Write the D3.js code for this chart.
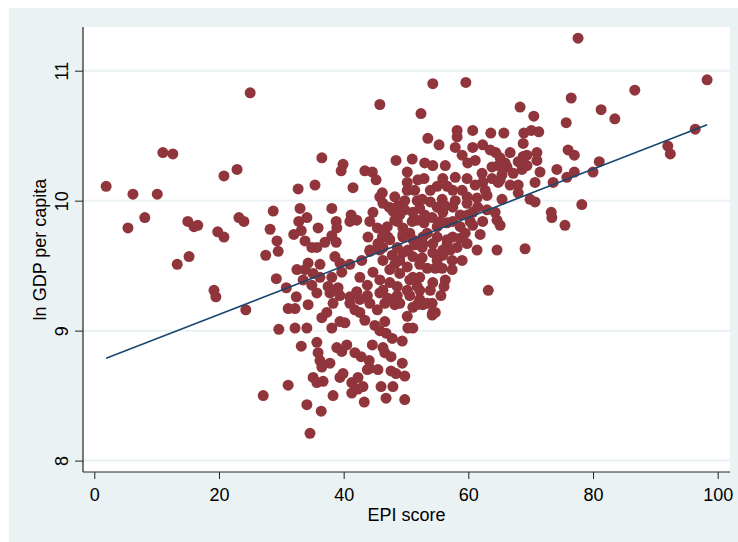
<!DOCTYPE html>
<html>
<head>
<meta charset="utf-8">
<script src="https://cdn.jsdelivr.net/npm/d3@7"></script>
<style>
  body { margin: 0; background: #ffffff; }
  text { font-family: "Liberation Sans", Arial, sans-serif; fill: #000; }
</style>
</head>
<body>
<div id="chart"></div>
<script>

// EPI score (x) and ln GDP per capita (y)
var epi = [
  1.9, 6.2, 5.4, 8.1, 10.1, 11.0, 12.6, 13.3, 15.2, 15.0, 16.0, 16.6, 19.2, 19.5, 19.8, 20.8, 20.8, 22.9, 23.2, 24.0,
  24.3, 25.0, 27.1, 27.5, 28.2, 28.7, 29.3, 29.5, 29.2, 29.6, 32.2, 34.1, 31.1, 34.1, 36.4, 34.6, 32.7, 32.0, 32.8, 33.0,
  33.2, 30.8, 32.4, 32.5, 31.1, 32.2, 33.8, 34.1, 34.9, 35.4, 35.7, 35.9, 36.5, 37.0, 38.1, 38.1, 38.8, 38.9, 38.8, 38.6,
  34.3, 36.2, 33.8, 35.1, 33.5, 34.9, 36.2, 38.1, 37.5, 39.1, 35.7, 37.8, 39.4, 41.0, 39.7, 34.3, 36.5, 37.3, 38.3, 39.4,
  38.1, 39.4, 40.2, 33.2, 35.7, 35.9, 36.2, 36.5, 37.8, 38.9, 35.1, 35.7, 36.7, 39.4, 38.3, 39.9, 39.9, 39.6, 41.5, 41.2,
  41.0, 42.1, 43.4, 44.6, 45.2, 44.7, 44.2, 43.9, 44.2, 45.4, 45.8, 46.3, 46.2, 45.8, 41.0, 41.0, 42.6, 42.6, 44.2, 45.4,
  43.8, 45.8, 42.9, 44.2, 45.8, 42.6, 43.8, 44.7, 45.8, 42.1, 40.5, 39.7, 41.8, 42.8, 44.6, 44.1, 44.2, 43.8, 45.5, 41.3,
  42.3, 43.1, 42.3, 41.3, 43.3, 45.0, 45.8, 46.8, 46.6, 46.3, 46.6, 47.8, 49.4, 47.6, 47.6, 48.4, 49.8, 49.4, 46.0, 47.9,
  46.8, 49.8, 50.3, 51.1, 50.2, 51.1, 52.7, 54.2, 54.2, 54.7, 46.6, 48.2, 48.6, 50.6, 51.8, 46.6, 47.1, 48.2, 49.5, 49.5,
  50.6, 51.1, 51.8, 47.8, 49.5, 51.1, 47.4, 49.0, 50.2, 51.1, 46.3, 48.6, 50.2, 51.8, 46.3, 48.2, 49.8, 50.2, 50.2, 51.4,
  47.3, 47.9, 48.7, 47.0, 48.6, 51.0, 46.2, 47.4, 49.5, 51.1, 46.3, 48.6, 50.3, 48.4, 51.0, 50.2, 52.4, 53.5, 55.3, 54.3,
  53.0, 54.3, 56.3, 52.9, 55.9, 55.0, 56.6, 51.8, 52.6, 53.9, 55.8, 52.9, 54.2, 55.9, 56.6, 52.7, 55.0, 56.6, 52.6, 54.3,
  55.9, 58.2, 58.2, 59.6, 57.9, 59.0, 60.7, 59.9, 61.1, 57.9, 59.8, 61.1, 57.5, 52.2, 55.0, 57.5, 59.8, 58.7, 60.7, 55.5,
  57.5, 60.3, 60.7, 58.7, 59.5, 55.0, 53.4, 57.5, 59.8, 61.4, 52.7, 54.3, 56.6, 58.2, 55.9, 57.4, 52.6, 53.4, 54.7, 55.8,
  52.2, 54.3, 56.3, 56.1, 55.6, 52.2, 53.4, 54.3, 62.3, 63.6, 60.7, 64.4, 66.7, 65.7, 68.3, 65.1, 64.8, 63.8, 66.2, 68.0,
  67.2, 62.2, 63.8, 65.4, 62.3, 64.8, 68.0, 68.0, 65.4, 63.0, 61.4, 59.8, 61.5, 63.0, 64.3, 62.3, 64.6, 65.1, 64.6, 63.2,
  65.9, 65.1, 68.9, 70.1, 71.3, 70.5, 68.8, 68.8, 69.4, 71.0, 71.0, 68.6, 69.4, 71.5, 70.7, 73.6, 69.9, 70.7, 74.2, 75.8,
  75.7, 76.0, 77.0, 77.0, 73.3, 73.4, 75.5, 69.1, 76.5, 77.6, 78.2, 80.0, 81.0, 81.3, 83.5, 86.7, 92.0, 92.4, 96.4, 98.3,
  53.9, 59.0, 51.9, 51.4, 53.9, 57.4, 59.0, 50.6, 49.0, 47.4, 52.2, 58.7, 61.9, 62.7, 66.7, 63.5, 57.9, 56.3, 53.0, 49.0,
  48.2, 52.2, 55.0, 57.1, 59.9, 49.8, 45.5, 47.1, 49.0, 41.8, 43.4
];

var lngdp = [
  10.11, 10.05, 9.79, 9.87, 10.05, 10.37, 10.36, 9.51, 9.57, 9.84, 9.80, 9.81, 9.31, 9.26, 9.76, 9.72, 10.19, 10.24, 9.87, 9.84,
  9.16, 10.83, 8.50, 9.58, 9.78, 9.92, 9.69, 9.61, 9.40, 9.01, 9.02, 9.02, 8.58, 8.43, 8.38, 8.21, 10.09, 9.74, 9.84, 9.94,
  9.77, 9.33, 9.26, 9.47, 9.17, 9.17, 9.69, 9.87, 9.64, 10.12, 9.64, 9.79, 10.33, 9.68, 9.73, 9.94, 9.84, 9.79, 9.68, 9.57,
  9.52, 9.51, 9.47, 9.44, 9.39, 9.35, 9.41, 9.41, 9.34, 9.33, 9.29, 9.29, 9.52, 9.51, 9.45, 9.20, 9.10, 9.14, 9.21, 9.27,
  9.02, 9.07, 9.06, 8.88, 8.91, 8.83, 8.77, 8.72, 8.75, 8.87, 8.64, 8.60, 8.61, 8.64, 8.50, 8.67, 10.28, 10.23, 10.10, 9.89,
  9.84, 9.85, 10.23, 10.22, 10.16, 9.91, 9.84, 9.72, 9.62, 9.79, 10.03, 9.98, 10.06, 10.74, 9.26, 9.21, 9.24, 9.14, 9.21, 9.16,
  9.27, 9.29, 9.54, 9.61, 9.62, 9.41, 9.35, 9.45, 9.39, 9.30, 8.89, 8.84, 8.83, 8.80, 8.89, 8.77, 8.71, 8.70, 8.70, 8.60,
  8.64, 8.57, 8.55, 8.52, 8.45, 9.04, 9.00, 8.98, 9.07, 8.87, 8.83, 8.94, 8.92, 8.80, 8.69, 8.67, 8.65, 8.75, 8.57, 8.57,
  8.48, 8.47, 9.02, 9.02, 9.11, 9.18, 9.20, 9.21, 9.12, 9.14, 9.21, 9.20, 9.27, 9.27, 9.20, 9.77, 9.72, 9.85, 9.79, 9.72,
  9.75, 9.91, 9.85, 9.58, 9.60, 9.57, 9.47, 9.44, 9.49, 9.41, 9.31, 9.34, 9.31, 9.34, 9.54, 10.03, 10.00, 10.14, 10.08, 10.08,
  9.95, 9.92, 9.96, 9.80, 9.84, 9.84, 9.72, 9.70, 9.74, 9.70, 9.64, 9.64, 9.62, 10.31, 10.32, 10.22, 10.67, 10.48, 10.43, 10.90,
  10.29, 10.27, 10.27, 10.17, 10.17, 10.11, 10.11, 10.00, 10.01, 9.99, 10.01, 9.83, 9.87, 9.91, 9.83, 9.72, 9.72, 9.70, 9.64, 9.60,
  9.62, 10.54, 10.49, 10.91, 10.41, 10.35, 10.41, 10.29, 10.31, 10.18, 10.17, 10.12, 10.08, 9.94, 9.95, 9.95, 9.98, 9.89, 9.91, 9.84,
  9.84, 9.84, 9.81, 9.80, 9.75, 9.80, 9.75, 9.72, 9.67, 9.62, 9.67, 9.67, 9.67, 9.64, 9.58, 9.54, 9.56, 9.48, 9.48, 9.48,
  9.41, 9.37, 9.39, 9.34, 9.27, 9.24, 9.21, 9.14, 10.43, 10.52, 10.54, 10.37, 10.37, 10.52, 10.72, 10.33, 10.27, 10.26, 10.26, 10.30,
  10.21, 10.21, 10.17, 10.20, 10.14, 10.14, 10.12, 10.06, 10.01, 10.04, 10.02, 10.03, 9.95, 9.93, 9.91, 9.84, 9.85, 9.81, 9.62, 9.31,
  10.29, 10.16, 10.52, 10.54, 10.53, 10.65, 10.44, 10.34, 10.35, 10.37, 10.31, 10.24, 10.27, 10.22, 10.14, 10.14, 10.01, 9.99, 10.24, 10.18,
  10.60, 10.39, 10.35, 10.22, 9.91, 9.87, 9.81, 9.63, 10.79, 11.25, 9.97, 10.22, 10.30, 10.70, 10.63, 10.85, 10.42, 10.36, 10.55, 10.93,
  10.08, 10.08, 10.16, 9.66, 9.31, 9.47, 9.54, 9.39, 9.54, 9.37, 9.31, 9.71, 9.74, 10.08, 10.12, 10.39, 10.00, 9.96, 9.89, 9.89,
  9.51, 9.51, 9.54, 9.62, 9.89, 9.93, 9.67, 9.25, 9.21, 9.16, 9.08
];

// fitted line (linear fit) coefficients
var fitIntercept = 8.752;
var fitSlope = 0.01863;

var xTicks = [0, 20, 40, 60, 80, 100];
var yTicks = [8, 9, 10, 11];

var W = 738, H = 542;
var plot = {left: 83, right: 730, top: 27, bottom: 472};

var svg = d3.select("#chart")
  .append("svg")
    .attr("width", W)
    .attr("height", H);

// graph region background
svg.append("rect")
  .attr("x", 9).attr("y", 8)
  .attr("width", W - 9).attr("height", H - 8)
  .attr("fill", "#eaf2f3");

// plot region
svg.append("rect")
  .attr("x", plot.left).attr("y", plot.top)
  .attr("width", plot.right - plot.left).attr("height", plot.bottom - plot.top)
  .attr("fill", "#ffffff");

var x = d3.scaleLinear()
  .domain([0, 100])
  .range([94.3, 717.7]);

var y = d3.scaleLinear()
  .domain([8, 11])
  .range([460.6, 70.7]);

// grid lines
svg.append("g")
  .selectAll("line")
  .data(yTicks)
  .enter()
  .append("line")
    .attr("x1", plot.left)
    .attr("x2", plot.right)
    .attr("y1", function(d) { return y(d); })
    .attr("y2", function(d) { return y(d); })
    .attr("stroke", "#eaf2f3")
    .attr("stroke-width", 2);

// X axis
var xAxis = svg.append("g")
  .attr("transform", "translate(0," + plot.bottom + ")")
  .call(d3.axisBottom(x).tickValues(xTicks).tickSize(7).tickPadding(9));
xAxis.select(".domain").remove();
xAxis.selectAll("line").attr("stroke", "#222");
xAxis.selectAll("text")
  .style("font-family", "Liberation Sans, Arial, sans-serif")
  .style("font-size", "18px")
  .attr("fill", "#000");

// Y axis, labels turned on their side like Stata does
var yAxis = svg.append("g")
  .attr("transform", "translate(" + plot.left + ",0)")
  .call(d3.axisLeft(y).tickValues(yTicks).tickFormat(d3.format("d")).tickSize(8).tickPadding(0));
yAxis.select(".domain").remove();
yAxis.selectAll("line").attr("stroke", "#222");
yAxis.selectAll(".tick text")
  .attr("x", 0).attr("y", 0).attr("dy", 0)
  .attr("transform", "translate(-15,0) rotate(-90)")
  .style("text-anchor", "middle")
  .style("font-family", "Liberation Sans, Arial, sans-serif")
  .style("font-size", "18px")
  .attr("fill", "#000");

// axis lines
svg.append("line")
  .attr("x1", plot.left).attr("x2", plot.left)
  .attr("y1", plot.top).attr("y2", plot.bottom)
  .attr("stroke", "#222").attr("stroke-width", 1.2);
svg.append("line")
  .attr("x1", plot.left).attr("x2", plot.right)
  .attr("y1", plot.bottom).attr("y2", plot.bottom)
  .attr("stroke", "#222").attr("stroke-width", 1.2);

// points
var points = epi.map(function(d, i) { return {epi: d, gdp: lngdp[i]}; });
svg.append("g")
  .selectAll("circle")
  .data(points)
  .enter()
  .append("circle")
    .attr("cx", function(d) { return x(d.epi); })
    .attr("cy", function(d) { return y(d.gdp); })
    .attr("r", 5.5)
    .attr("fill", "#90353b");

// fitted values
var xmin = d3.min(epi), xmax = d3.max(epi);
svg.append("line")
  .attr("x1", x(xmin)).attr("x2", x(xmax))
  .attr("y1", y(fitIntercept + fitSlope * xmin))
  .attr("y2", y(fitIntercept + fitSlope * xmax))
  .attr("stroke", "#1a476f")
  .attr("stroke-width", 1.6);

// axis titles
svg.append("text")
  .attr("x", (plot.left + plot.right) / 2)
  .attr("y", 521)
  .attr("text-anchor", "middle")
  .style("font-size", "18px")
  .text("EPI score");

svg.append("text")
  .attr("transform", "translate(46," + ((plot.top + plot.bottom) / 2) + ") rotate(-90)")
  .attr("text-anchor", "middle")
  .style("font-size", "18px")
  .text("ln GDP per capita");

</script>
</body>
</html>
